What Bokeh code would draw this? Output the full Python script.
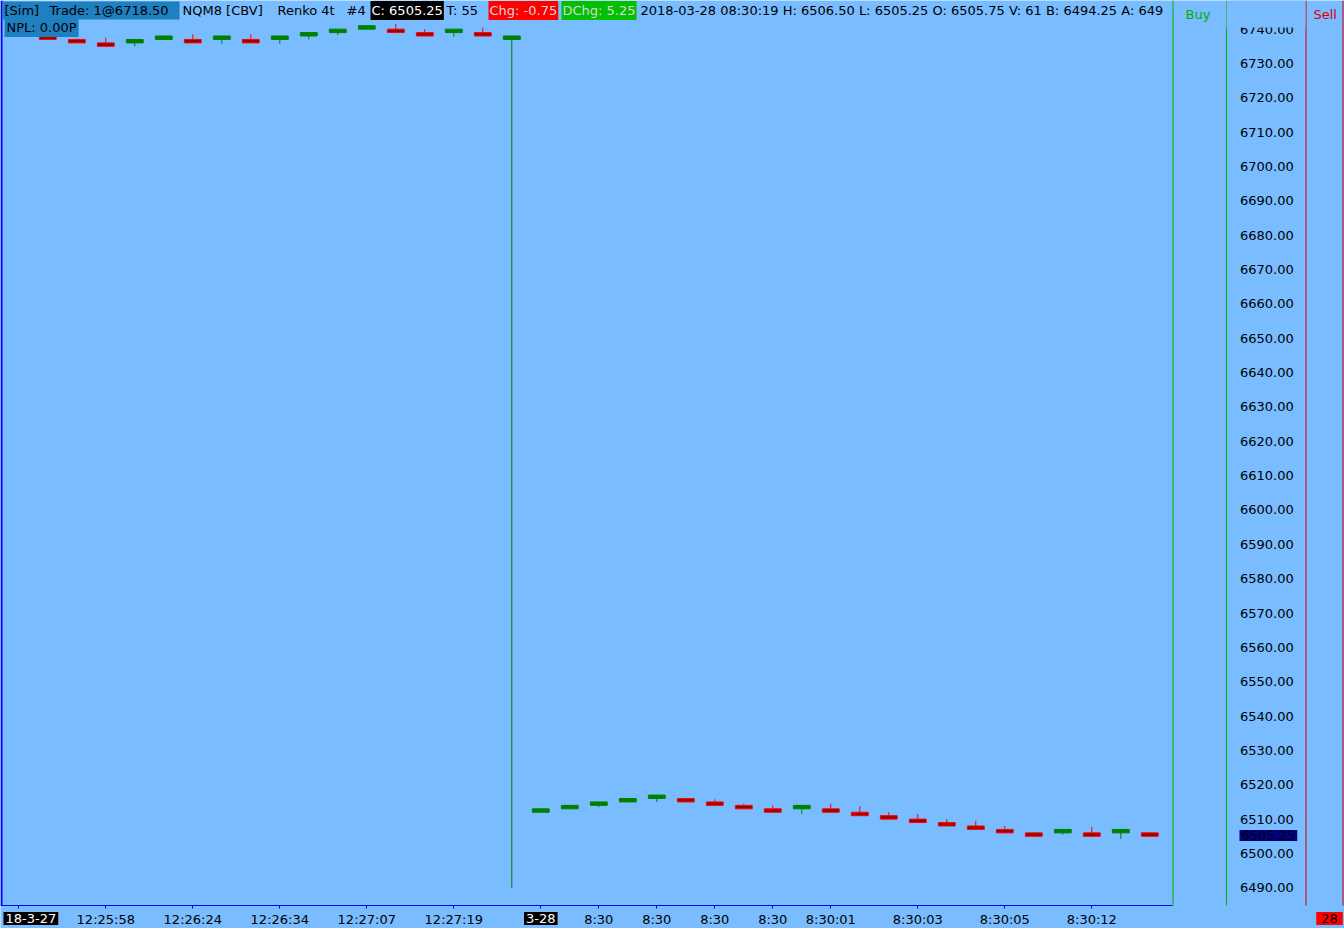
from bokeh.plotting import figure
from bokeh.models import (ColumnDataSource, FixedTicker, PrintfTickFormatter, Label, Range1d,
                          LinearAxis, BoxAnnotation)
from bokeh.embed import file_html
from bokeh.resources import INLINE

# ---------------- data (Renko 4t bricks, NQM8) ----------------
bar_index = list(range(39))
opens = [6738, 6737, 6736, 6736, 6737, 6737, 6737, 6737, 6737, 6738, 6739, 6740, 6740, 6739, 6739, 6739, 6737,
         6512, 6513, 6514, 6515, 6516, 6516, 6515, 6514, 6513, 6513, 6513, 6512, 6511, 6510, 6509, 6508, 6507,
         6506, 6506, 6506, 6506, 6506]
closes = [6737, 6736, 6735, 6737, 6738, 6736, 6738, 6736, 6738, 6739, 6740, 6741, 6739, 6738, 6740, 6738, 6738,
          6513, 6514, 6515, 6516, 6517, 6515, 6514, 6513, 6512, 6514, 6512, 6511, 6510, 6509, 6508, 6507, 6506,
          6505, 6507, 6505, 6507, 6505]
highs = [6738, 6737, 6737.5, 6737, 6738, 6738.5, 6738, 6738.5, 6738, 6739, 6740, 6741, 6741.5, 6740, 6740, 6740.5, 6738,
         6513, 6514, 6515, 6516, 6517, 6516, 6515.75, 6514.5, 6514, 6514, 6514.5, 6513.75, 6512, 6511.5, 6510, 6509.5,
         6508, 6506, 6507, 6507.75, 6507, 6506.25]
lows = [6737, 6736, 6735, 6735, 6737, 6736, 6735.75, 6736, 6735.75, 6737, 6738.25, 6740, 6739, 6738, 6737.75, 6738, 6490,
        6512, 6513, 6513.5, 6515, 6515, 6515, 6514, 6513, 6512, 6511.5, 6512, 6511, 6510, 6509, 6508, 6507,
        6506, 6505, 6505.5, 6505, 6504.25, 6505]

x_tick_index = [-1, 2, 5, 8, 11, 14, 17, 19, 21, 23, 25, 27, 30, 33, 36]
x_tick_labels = ["18-3-27", "12:25:58", "12:26:24", "12:26:34", "12:27:07", "12:27:19", "3-28",
                 "8:30", "8:30", "8:30", "8:30", "8:30:01", "8:30:03", "8:30:05", "8:30:12"]
date_labels = ["18-3-27", "3-28"]
y_ticks = [6490, 6500, 6510, 6520, 6530, 6540, 6550, 6560, 6570, 6580, 6590, 6600, 6610,
           6620, 6630, 6640, 6650, 6660, 6670, 6680, 6690, 6700, 6710, 6720, 6730, 6740]
last_price = 6505.25
last_price_text = "6505.25"
session_day = "28"

header_texts = ["[Sim]", "Trade: 1@6718.50", "NQM8 [CBV]", "Renko 4t", "#4", "C: 6505.25", "T: 55",
                "Chg: -0.75", "DChg: 5.25",
                "2018-03-28 08:30:19 H: 6506.50 L: 6505.25 O: 6505.75 V: 61 B: 6494.25 A: 649",
                "NPL: 0.00P"]

# ---------------- layout / styling ----------------
BG = "#79BCFF"
FONT = "DejaVu Sans"
FS = "13px"
W, H = 1344, 928            # whole canvas is the plot frame
MAIN_W, MAIN_H = 1172, 905  # price-chart area (rest is ladder + time labels)
X0, X1_MAIN = -1.631, 38.783
Y_TOP, Y_BOT_MAIN = 6748.34, 6484.85
PXX = MAIN_W / (X1_MAIN - X0)
PXY = MAIN_H / (Y_TOP - Y_BOT_MAIN)
X1 = X0 + W / PXX
Y_BOT = Y_TOP - H / PXY


def xd(px):
    return X0 + px / PXX


up_fill, up_line = "#008000", "#008000"
dn_fill, dn_line = "#9B0000", "#FF0000"
BLUE, GREEN, RED = "#0000FF", "#00B400", "#D00000"

src = ColumnDataSource(dict(
    x=bar_index,
    top=[max(o, c) for o, c in zip(opens, closes)],
    bottom=[min(o, c) for o, c in zip(opens, closes)],
    high=highs,
    low=lows,
    fill=[up_fill if c > o else dn_fill for o, c in zip(opens, closes)],
    line=[up_line if c > o else dn_line for o, c in zip(opens, closes)],
))

p = figure(width=W, height=H, output_backend="svg", toolbar_location=None, title=None,
           x_range=Range1d(X0, X1), y_range=Range1d(Y_BOT, Y_TOP),
           x_axis_location=None, y_axis_location=None,
           min_border_left=0, min_border_top=0, min_border_right=0, min_border_bottom=0)
p.background_fill_color = BG
p.border_fill_color = BG
p.outline_line_color = None
p.xgrid.visible = False
p.ygrid.visible = False

# panel separator lines
sep_x = [xd(1), xd(MAIN_W + 0.5), xd(MAIN_W + 133.5), xd(MAIN_W + 170.5)]
p.segment(x0=sep_x, y0=[Y_BOT_MAIN] * 4, x1=sep_x, y1=[Y_TOP] * 4,
          line_color=[BLUE, GREEN, RED, RED], line_width=[2, 1, 1, 1])

p.segment(x0="x", y0="high", x1="x", y1="low", source=src, line_color="line", line_width=1)
p.vbar(x="x", top="top", bottom="bottom", width=0.58, source=src, fill_color="fill",
       line_color="line", line_width=1)

# time axis
xa = LinearAxis(fixed_location=Y_BOT_MAIN, bounds=(X0, X1_MAIN))
xa.ticker = FixedTicker(ticks=x_tick_index)
xa.major_label_overrides = {i: ("" if t in date_labels else t) for i, t in zip(x_tick_index, x_tick_labels)}
xa.axis_line_color = BLUE
xa.major_tick_line_color = BLUE
xa.major_tick_in = 0
xa.major_tick_out = 3
xa.minor_tick_line_color = None
xa.major_label_standoff = 3
xa.major_label_text_font = FONT
xa.major_label_text_font_size = FS
xa.major_label_text_color = "#000000"
p.add_layout(xa, "below")

# price axis (sits in the ladder; its line is the green ladder border)
ya = LinearAxis(fixed_location=xd(MAIN_W + 53.5), bounds=(Y_BOT_MAIN, Y_TOP))
ya.ticker = FixedTicker(ticks=y_ticks)
ya.formatter = PrintfTickFormatter(format="%.2f")
ya.axis_line_color = GREEN
ya.major_tick_line_color = None
ya.minor_tick_line_color = None
ya.major_tick_in = 0
ya.major_tick_out = 0
ya.major_label_standoff = 14
ya.major_label_text_font = FONT
ya.major_label_text_font_size = FS
ya.major_label_text_color = "#000000"
p.add_layout(ya, "right")


def lab(text, x, y, color="#000000", bg=None, x_units="screen", y_units="screen", align="left", pad=(2, 2)):
    kw = dict(text=text, x=x, y=y, x_units=x_units, y_units=y_units, text_font=FONT, text_font_size=FS,
              text_color=color, text_baseline="middle", text_align=align)
    if bg is not None:
        kw.update(background_fill_color=bg, background_fill_alpha=1.0, padding=pad)
    p.add_layout(Label(**kw))


def box(left, right, top, bottom, color):
    p.add_layout(BoxAnnotation(left=left, right=right, top=top, bottom=bottom, left_units="screen",
                               right_units="screen", top_units="screen", bottom_units="screen",
                               fill_color=color, fill_alpha=1.0, line_color=None))


# ladder header strip (hides the top of the first price label, as in the original)
box(MAIN_W + 54, MAIN_W + 133, H, H - 27, BG)

SB = "#1E80C0"
box(2, 179, H - 1, H - 19, SB)
hy = H - 10
lab(header_texts[0], 4, hy)
lab(header_texts[1], 49, hy)
lab(header_texts[2], 182, hy)
lab(header_texts[3], 277, hy)
lab(header_texts[4], 346, hy)
lab(header_texts[5], 370, hy, color="#FFFFFF", bg="#000000", pad=(1, 2))
lab(header_texts[6], 446, hy)
lab(header_texts[7], 488, hy, color="#D8D8D8", bg="#FF0000", pad=(1, 2))
lab(header_texts[8], 561, hy, color="#D8D8D8", bg="#00C000", pad=(1, 2))
lab(header_texts[9], 640, hy)
lab(header_texts[10], 4, H - 27, bg=SB)

lab("Buy", MAIN_W + 13, H - 14, color="#00B000")
lab("Sell", MAIN_W + 141, H - 14, color="#E00000")

# last-price marker on the price axis
lab(last_price_text, MAIN_W + 67, last_price, y_units="data", bg="#000080", pad=(2, 1))

# date labels on the time axis
lab(date_labels[0], 3, H - 918, color="#FFFFFF", bg="#000000")
lab(date_labels[1], x_tick_index[x_tick_labels.index(date_labels[1])], H - 918, color="#FFFFFF",
    bg="#000000", x_units="data", align="center")
lab(session_day, MAIN_W + 157, H - 918, color="#000000", bg="#FF0000", align="center", pad=(5, 2))

open("out.html", "w").write(file_html(p, INLINE))
